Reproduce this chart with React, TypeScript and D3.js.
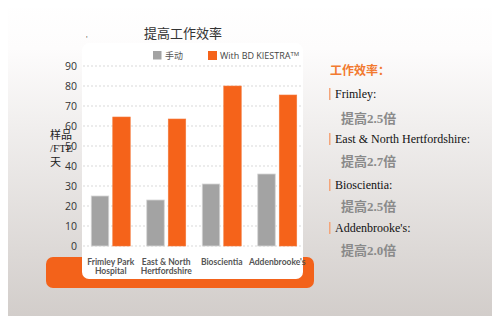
import React from "react";
import * as d3 from "d3";

const categories = ["Frimley Park\nHospital", "East & North\nHertfordshire", "Bioscientia", "Addenbrooke's"];
const manualValues = [25, 23, 31, 36];
const kiestraValues = [64.5, 63.5, 80, 75.5];
const yTicks = [0, 10, 20, 30, 40, 50, 60, 70, 80, 90];
const seriesNames = ["手动", "With BD KIESTRA™"];
const sideTitle = "工作效率：";
const sideSites = ["Frimley:", "East & North Hertfordshire:", "Bioscientia:", "Addenbrooke's:"];
const sideGains = ["提高2.5倍", "提高2.7倍", "提高2.5倍", "提高2.0倍"];

const GRAY = "#a3a3a3";
const ORANGE = "#f5631a";
const sans = "'Open Sans', 'Noto Sans', 'Noto Sans CJK SC', sans-serif";
const cjk = "'Noto Sans CJK SC', sans-serif";
const serif = "'Liberation Serif', 'Noto Sans CJK SC', serif";

export default function App() {
  const W = 500, H = 324;
  const x = d3.scaleBand<number>().domain(d3.range(categories.length)).range([83, 305]).paddingInner(0).paddingOuter(0);
  const y = d3.scaleLinear().domain([0, 90]).range([246, 66]);
  const barW = 17.5;
  const gap = 4;

  return (
    <div style={{ margin: -8, width: W, height: H, overflow: "hidden" }}>
      <svg width={W} height={H} style={{ display: "block" }}>
        <defs>
          <linearGradient id="bg" x1="0" y1="0" x2="0" y2="1">
            <stop offset="0" stopColor="#ffffff" />
            <stop offset="0.15" stopColor="#fdfcfc" />
            <stop offset="1" stopColor="#d1ccc9" />
          </linearGradient>
        </defs>
        <rect x={0} y={0} width={W} height={H} fill="url(#bg)" />
        <line x1={1} y1={0} x2={1} y2={H} stroke="#cfcfcf" strokeWidth={1.5} />

        {/* orange base */}
        <rect x={46} y={257} width={268} height={31} rx={7} fill="#f3621a" />
        {/* white panel */}
        <rect x={82} y={43} width={221} height={236} rx={7} fill="#ffffff" />

        {/* title */}
        <text x={183} y={38} textAnchor="middle" fontFamily={cjk} fontSize={13} fill="#333">提高工作效率</text>
        <text x={86} y={41} fontFamily={sans} fontSize={7} fill="#333">'</text>

        {/* gridlines */}
        {yTicks.map((t) => (
          <line key={t} x1={83} x2={303} y1={y(t)} y2={y(t)} stroke="#cfcfcf" strokeWidth={0.8} strokeDasharray="2,2" />
        ))}
        {yTicks.map((t) => (
          <text key={"l" + t} x={77} y={y(t) + 4} textAnchor="end" fontFamily={sans} fontSize={10.5} fill="#333">{t}</text>
        ))}

        {/* bars */}
        {categories.map((c, i) => {
          const cx = (x(i) as number) + x.bandwidth() / 2;
          return (
            <g key={c}>
              <rect x={cx - gap / 2 - barW} y={y(manualValues[i])} width={barW} height={y(0) - y(manualValues[i])} fill={GRAY} stroke="#d4d4d4" strokeWidth={0.8} />
              <rect x={cx + gap / 2} y={y(kiestraValues[i])} width={barW} height={y(0) - y(kiestraValues[i])} fill={ORANGE} stroke="#f47a3c" strokeWidth={0.6} />
              {c.split("\n").map((line, k) => (
                <text key={k} x={cx} y={265 + k * 9} textAnchor="middle" fontFamily="Lato, 'Open Sans', sans-serif" fontSize={8.5} fontWeight={700} fill="#555">{line}</text>
              ))}
            </g>
          );
        })}

        {/* legend */}
        <rect x={153} y={51} width={8.5} height={8.5} fill={GRAY} />
        <text x={165} y={59} fontFamily={cjk} fontSize={9} fill="#555">{seriesNames[0]}</text>
        <rect x={208} y={51} width={9} height={9} fill={ORANGE} />
        <text x={220} y={59} fontFamily={sans} fontSize={9} fill="#444">With BD KIESTRA<tspan fontSize={6} dy={-3}>TM</tspan></text>

        {/* y label */}
        <text x={50} y={139} fontFamily={cjk} fontSize={11} fill="#222">样品</text>
        <text x={50} y={152} fontFamily={serif} fontSize={11} fill="#222">/FTE</text>
        <text x={50} y={166} fontFamily={cjk} fontSize={11} fill="#222">天</text>

        {/* right notes */}
        <text x={330} y={75} fontFamily={cjk} fontSize={12} fontWeight={700} fill="#f27a30">{sideTitle}</text>
        {sideSites.map((s, i) => {
          const ys = [94, 139, 185, 228][i];
          const yg = [118, 161, 206, 250][i];
          return (
            <g key={s}>
              <rect x={329} y={ys - 6} width={1.5} height={12} fill="#f4a57a" />
              <text x={335} y={ys + 4} fontFamily={serif} fontSize={12} fill="#111">{s}</text>
              <text x={341} y={yg + 5} fontFamily={serif} fontSize={13} fontWeight={700} fill="#8a8a8a">{sideGains[i]}</text>
            </g>
          );
        })}
      </svg>
    </div>
  );
}
